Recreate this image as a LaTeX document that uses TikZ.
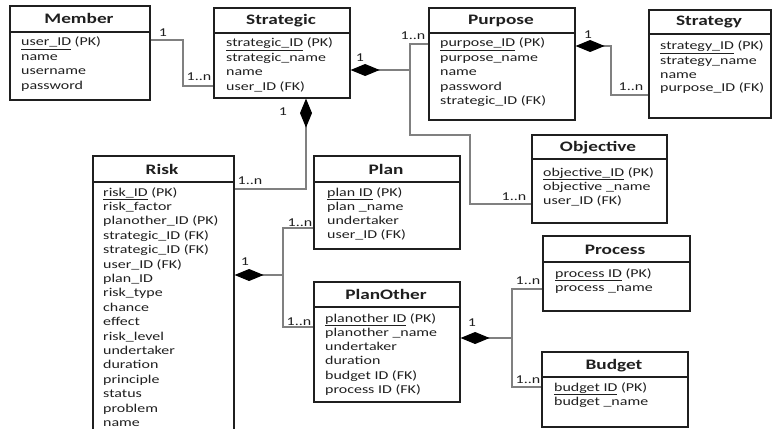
\documentclass[tikz,border=0pt]{standalone}
\usepackage{fontspec}
\newfontfamily\erfont{Carlito}[FakeStretch=1.33]
\usetikzlibrary{arrows.meta}

\tikzset{
  box/.style={draw=black!88, line width=1.6pt, anchor=north west, inner sep=0pt},
  hline/.style={draw=black!88, line width=1.4pt},
  etitle/.style={font=\erfont\bfseries\fontsize{14.5}{17}\selectfont, anchor=base, inner sep=0pt, text=black!88},
  attr/.style={font=\erfont\fontsize{12}{14}\selectfont, anchor=base west, inner sep=0pt, text=black!88},
  mult/.style={font=\erfont\fontsize{12}{14}\selectfont, anchor=base, inner sep=0pt, text=black!88},
  link/.style={draw=black!50, line width=1.1pt},
  own/.style={{Diamond[length=29pt,width=12pt,black]}-}
}

\begin{document}
\begin{tikzpicture}[x=1pt,y=-1pt]
  \clip (0,0) rectangle (773,428);

    \node[box, minimum width=140pt, minimum height=94pt] (member) at (9,5) {};
    \draw[hline] (member.west |- 0,32) -- (member.east |- 0,32);
  \node[etitle] (member-t) at (79,24) {Member};
  \foreach \t [count=\i] in {\underline{user\_ID} (PK), name, username, password}
    \node[attr] (member-\i) at (21,31.6+14.4*\i) {\t};

    \node[box, minimum width=136pt, minimum height=90pt] (strategic) at (213,7) {};
    \draw[hline] (strategic.west |- 0,33) -- (strategic.east |- 0,33);
  \node[etitle] (strategic-t) at (281,25) {Strategic};
  \foreach \t [count=\i] in {\underline{strategic\_ID} (PK), strategic\_name, name, user\_ID (FK)}
    \node[attr] (strategic-\i) at (226,32.6+14.4*\i) {\t};

    \node[box, minimum width=146pt, minimum height=112pt] (purpose) at (428,7) {};
    \draw[hline] (purpose.west |- 0,33) -- (purpose.east |- 0,33);
  \node[etitle] (purpose-t) at (501,25) {Purpose};
  \foreach \t [count=\i] in {\underline{purpose\_ID} (PK), purpose\_name, name, password, strategic\_ID (FK)}
    \node[attr] (purpose-\i) at (440,32.6+14.4*\i) {\t};

    \node[box, minimum width=122pt, minimum height=108pt] (strategy) at (648,9) {};
    \draw[hline] (strategy.west |- 0,34) -- (strategy.east |- 0,34);
  \node[etitle] (strategy-t) at (709,26) {Strategy};
  \foreach \t [count=\i] in {\underline{strategy\_ID} (PK), strategy\_name, name, purpose\_ID (FK)}
    \node[attr] (strategy-\i) at (660,36+14*\i) {\t};

    \node[box, minimum width=135pt, minimum height=88pt] (objective) at (531,134) {};
    \draw[hline] (objective.west |- 0,159) -- (objective.east |- 0,159);
  \node[etitle] (objective-t) at (598,151) {Objective};
  \foreach \t [count=\i] in {\underline{objective\_ID} (PK), objective \_name, user\_ID (FK)}
    \node[attr] (objective-\i) at (543,162+14*\i) {\t};

    \node[box, minimum width=141pt, minimum height=300pt] (risk) at (92,155) {};
    \draw[hline] (risk.west |- 0,182) -- (risk.east |- 0,182);
  \node[etitle] (risk-t) at (162,174) {Risk};
  \foreach \t [count=\i] in {\underline{risk\_ID} (PK), risk\_factor, planother\_ID (PK),
      strategic\_ID (FK), strategic\_ID (FK), user\_ID (FK), plan\_ID, risk\_type, chance,
      effect, risk\_level, undertaker, duration, principle, status, problem, name}
    \node[attr] (risk-\i) at (103,181.6+14.4*\i) {\t};

    \node[box, minimum width=146pt, minimum height=93pt] (plan) at (313,155) {};
    \draw[hline] (plan.west |- 0,182) -- (plan.east |- 0,182);
  \node[etitle] (plan-t) at (386,174) {Plan};
  \foreach \t [count=\i] in {\underline{plan ID} (PK), plan \_name, undertaker, user\_ID (FK)}
    \node[attr] (plan-\i) at (327,182+14*\i) {\t};

    \node[box, minimum width=146pt, minimum height=120pt] (planother) at (313,281) {};
    \draw[hline] (planother.west |- 0,307) -- (planother.east |- 0,307);
  \node[etitle] (planother-t) at (386,299) {PlanOther};
  \foreach \t [count=\i] in {\underline{planother ID} (PK), planother \_name, undertaker,
      duration, budget ID (FK), process ID (FK)}
    \node[attr] (planother-\i) at (325,308+14.2*\i) {\t};

    \node[box, minimum width=147pt, minimum height=75pt] (process) at (542,235) {};
    \draw[hline] (process.west |- 0,262) -- (process.east |- 0,262);
  \node[etitle] (process-t) at (615,254) {Process};
  \foreach \t [count=\i] in {\underline{process ID} (PK), process \_name}
    \node[attr] (process-\i) at (555,263+14*\i) {\t};

    \node[box, minimum width=146pt, minimum height=75pt] (budget) at (541,351) {};
    \draw[hline] (budget.west |- 0,377) -- (budget.east |- 0,377);
  \node[etitle] (budget-t) at (614,369) {Budget};
  \foreach \t [count=\i] in {\underline{budget ID} (PK), budget \_name}
    \node[attr] (budget-\i) at (554,377+14*\i) {\t};

    \draw[link] (member.east |- 0,40) -- (183,40) |- (strategic.west |- 0,86);
  \node[mult] (m-1) at (163,37) {1};
  \node[mult] (m-n) at (199,80) {1..n};

    \draw[link, own] (strategic.east |- 0,70) -- (410,70);
    \draw[link] (purpose.west |- 0,44) -| (410,135) -| (470,204) -- (objective.west |- 0,204);
  \node[mult] (s-1) at (360,61) {1};
  \node[mult] (p-n) at (413,40) {1..n};
  \node[mult] (o-n) at (514,200) {1..n};

    \draw[link, own] (purpose.east |- 0,46) -| (611,95) -- (strategy.west |- 0,95);
  \node[mult] (p-1) at (588,38) {1};
  \node[mult] (g-n) at (631,90) {1..n};

    \draw[link, own] (strategic.south -| 306,0) |- (risk.east |- 0,189);
  \node[mult] (s-1b) at (283,115) {1};
  \node[mult] (r-n) at (250,184) {1..n};

    \draw[link, own] (risk.east |- 0,275) -- (283,275);
    \draw[link] (plan.west |- 0,228) -| (283,327) -- (planother.west |- 0,327);
  \node[mult] (r-1) at (245,265) {1};
  \node[mult] (l-n) at (300,226) {1..n};
  \node[mult] (q-n) at (299,325) {1..n};

    \draw[link, own] (planother.east |- 0,338) -- (512,338);
    \draw[link] (process.west |- 0,289) -| (512,387) -- (budget.west |- 0,387);
  \node[mult] (q-1) at (472,326) {1};
  \node[mult] (c-n) at (528,284) {1..n};
  \node[mult] (b-n) at (528,383) {1..n};

\end{tikzpicture}
\end{document}
